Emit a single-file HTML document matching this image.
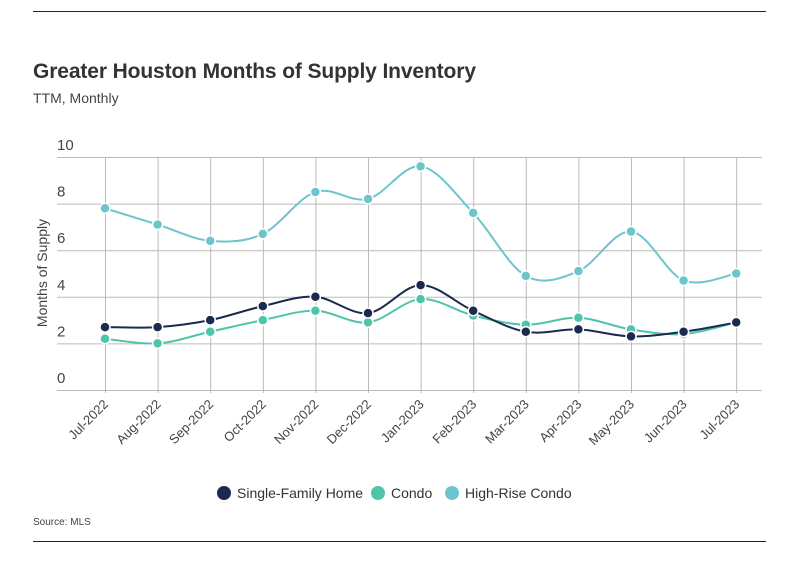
<!DOCTYPE html>
<html><head><meta charset="utf-8"><style>
body{margin:0;background:#fff;}
svg text{font-family:"Liberation Sans",sans-serif;}
</style></head><body>
<svg id="c" width="799" height="575" xmlns="http://www.w3.org/2000/svg">
<line x1="33" y1="11.5" x2="766" y2="11.5" stroke="#222" stroke-width="1"/>
<line x1="33" y1="541.5" x2="766" y2="541.5" stroke="#222" stroke-width="1"/>
<text x="33" y="78" font-size="21" font-weight="bold" fill="#333" textLength="443" lengthAdjust="spacing">Greater Houston Months of Supply Inventory</text>
<text x="33" y="103" font-size="14" fill="#444">TTM, Monthly</text>
<text transform="translate(47,273) rotate(-90)" text-anchor="middle" font-size="14" fill="#444">Months of Supply</text>
<g id="grid"></g><g id="series"></g>
<g>
<circle cx="224" cy="493" r="7" fill="#1c2a50"/>
<text x="237" y="498" font-size="14" fill="#333">Single-Family Home</text>
<circle cx="378" cy="493" r="7" fill="#4ec4a9"/>
<text x="391" y="498" font-size="14" fill="#333">Condo</text>
<circle cx="452" cy="493" r="7" fill="#6dc5cc"/>
<text x="465" y="498" font-size="14" fill="#333">High-Rise Condo</text>
</g>
<text x="33" y="525" font-size="10" fill="#444">Source:  MLS</text>
</svg>
<script>
const categories=["Jul-2022","Aug-2022","Sep-2022","Oct-2022","Nov-2022","Dec-2022","Jan-2023","Feb-2023","Mar-2023","Apr-2023","May-2023","Jun-2023","Jul-2023"];
const sfhValues=[2.7,2.7,3.0,3.6,4.0,3.3,4.5,3.4,2.5,2.6,2.3,2.5,2.9];
const condoValues=[2.2,2.0,2.5,3.0,3.4,2.9,3.9,3.2,2.8,3.1,2.6,2.4,2.9];
const highRiseValues=[7.8,7.1,6.4,6.7,8.5,8.2,9.6,7.6,4.9,5.1,6.8,4.7,5.0];
const yTicks=[0,2,4,6,8,10];
const NS="http://www.w3.org/2000/svg";
const X=i=>105+i*52.6, Y=v=>390-v*23.3;
const grid=document.getElementById('grid'), ser=document.getElementById('series');
function mk(t,a,p){const e=document.createElementNS(NS,t);for(const k in a)e.setAttribute(k,a[k]);p.appendChild(e);return e;}
yTicks.forEach(v=>{
 const l=mk('line',{x1:57,x2:762,y1:Y(v)+.5,y2:Y(v)+.5,stroke:'#bbb','stroke-width':1},grid);
 
 
 const t=mk('text',{x:57,y:Y(v)-7,'font-size':15,fill:'#444'},grid);t.textContent=v;
 
 
});
categories.forEach((c,i)=>{
 const l=mk('line',{x1:X(i)+.5,x2:X(i)+.5,y1:Y(10),y2:393,stroke:'#bbb','stroke-width':1},grid);
 
 
 const t=mk('text',{transform:`translate(${X(i)+4},${405}) rotate(-45)`,'text-anchor':'end','font-size':13,fill:'#444'},grid);t.textContent=c;
 
 
});
function path(vals){
 const p=vals.map((v,i)=>[X(i),Y(v)]);let d=`M${p[0][0]},${p[0][1]}`;
 for(let i=0;i<p.length-1;i++){const p0=p[Math.max(0,i-1)],p1=p[i],p2=p[i+1],p3=p[Math.min(p.length-1,i+2)];const k=6;
 d+=` C${p1[0]+(p2[0]-p0[0])/k},${p1[1]+(p2[1]-p0[1])/k} ${p2[0]-(p3[0]-p1[0])/k},${p2[1]-(p3[1]-p1[1])/k} ${p2[0]},${p2[1]}`;}
 return d;}
[[highRiseValues,'#6dc5cc','highrise'],[condoValues,'#4ec4a9','condo'],[sfhValues,'#1c2a50','sfh']].forEach(([vals,col,n])=>{
 const p=mk('path',{d:path(vals),fill:'none',stroke:col,'stroke-width':2},ser);
 
 
 vals.forEach((v,i)=>{const c=mk('circle',{cx:X(i),cy:Y(v),r:5,fill:col,stroke:'#fff','stroke-width':1.5},ser);
 
 });
});
</script>
</body></html>
